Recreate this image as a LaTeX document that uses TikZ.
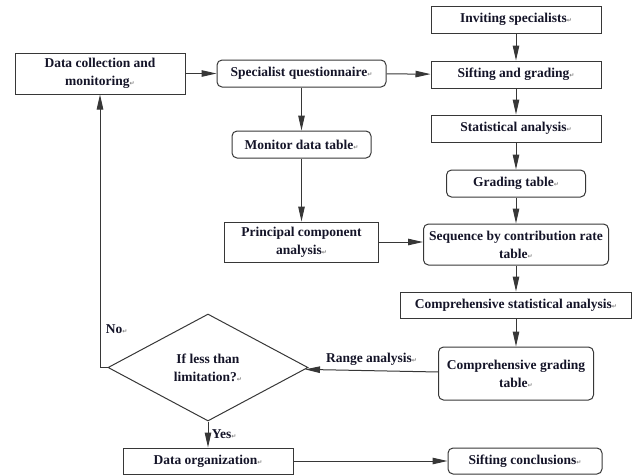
\documentclass[tikz,border=0pt]{standalone}
\usepackage{fontspec}
\setmainfont{Liberation Serif}
\newfontfamily\markfont{DejaVu Sans}
\usetikzlibrary{positioning,arrows.meta,shapes.geometric}
\definecolor{flowline}{RGB}{55,55,55}
\definecolor{flowtext}{RGB}{20,20,40}
\newcommand{\pmark}{{\markfont\fontsize{6}{6}\selectfont\color{gray}↵}}

\begin{document}
\begin{tikzpicture}[
        x=1pt, y=-1pt,
        every node/.style={font=\fontsize{13.5}{18}\selectfont\bfseries, text=flowtext},
        plain/.style={rectangle, draw=flowline, line width=1pt, align=center, inner sep=1pt},
        soft/.style={plain, rounded corners=5pt},
        decide/.style={diamond, draw=flowline, line width=1pt, align=center, inner sep=0pt, minimum width=200pt, minimum height=107pt},
        arrow/.style={-{Triangle[length=15pt,width=6.5pt]}, line width=1pt, draw=flowline}
    ]
        \useasboundingbox (0,0) rectangle (632,475);
        \node[plain, minimum width=170pt, minimum height=27pt] (invite) at (516,19.5) {Inviting specialists\pmark};
        \node[plain, minimum width=170pt, minimum height=27pt, below=27pt of invite] (sift) {Sifting and grading\pmark};
        \node[plain, minimum width=170pt, minimum height=27pt, below=26pt of sift] (stat) {Statistical analysis\pmark};
        \node[soft, minimum width=139pt, minimum height=27pt, below=27pt of stat] (grade) {Grading table\pmark};
        \node[soft, minimum width=185pt, minimum height=41pt, below=26pt of grade] (seq) {Sequence by contribution rate\\table\pmark};
        \node[plain, minimum width=231pt, minimum height=26pt, below=26pt of seq] (compstat) {Comprehensive statistical analysis\pmark};
        \node[soft, minimum width=155pt, minimum height=53pt, below=28pt of compstat] (compgrade) {Comprehensive grading\\table\pmark};
        \node[plain, minimum width=170pt, minimum height=41pt] (collect) at (100,73.5) {Data collection and\\monitoring\pmark};
        \node[soft, minimum width=169pt, minimum height=27pt, right=31pt of collect] (quest) {Specialist questionnaire\pmark};
        \node[soft, minimum width=139pt, minimum height=27pt, below=43pt of quest] (monitor) {Monitor data table\pmark};
        \node[plain, minimum width=154pt, minimum height=40pt, below=63pt of monitor] (pca) {Principal component\\analysis\pmark};
        \node[decide] (check) at (208,367.5) {If less than\\limitation?\pmark};
        \node[plain, minimum width=170pt, minimum height=26pt, below=26pt of check] (organize) {Data organization\pmark};
        \node[soft, minimum width=154pt, minimum height=26pt, right=154pt of organize] (conclude) {Sifting conclusions\pmark};
        \draw[arrow] (collect) -- (quest);
        \draw[arrow] (quest) -- (sift);
        \draw[arrow] (quest) -- (monitor);
        \draw[arrow] (monitor) -- (pca);
        \draw[arrow] (pca.east) -- (pca.east -| seq.west);
        \draw[arrow] (invite) -- (sift);
        \draw[arrow] (sift) -- (stat);
        \draw[arrow] (stat) -- (grade);
        \draw[arrow] (grade) -- (seq);
        \draw[arrow] (seq) -- (compstat);
        \draw[arrow] (compstat) -- (compgrade);
        \draw[arrow] (compgrade) -- node[above=1pt] {Range analysis\pmark} (check);
        \draw[arrow] (check.west) -| node[right, pos=0.57, xshift=2pt] {No\pmark} (collect.south);
        \draw[arrow] (check) -- node[right] {Yes\pmark} (organize);
        \draw[arrow] (organize) -- (conclude);
    \end{tikzpicture}
\end{document}
